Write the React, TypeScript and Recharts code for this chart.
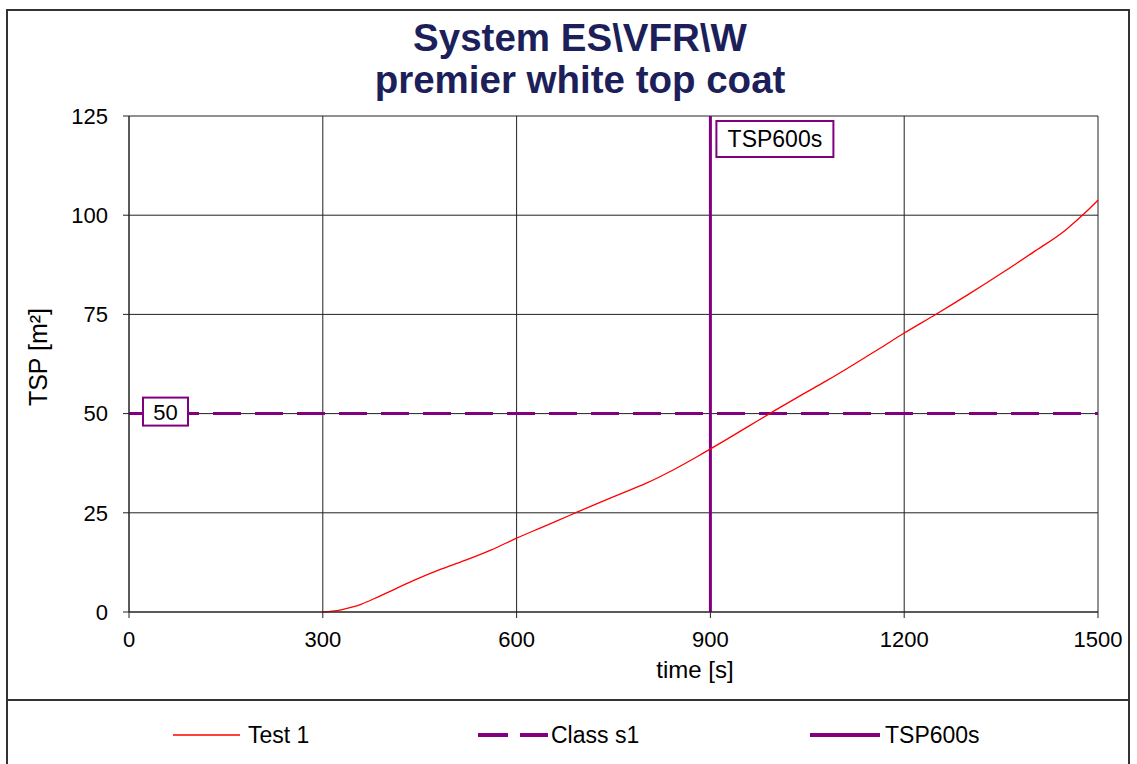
import React from "react";
import { LineChart, Line, XAxis, YAxis, CartesianGrid, ReferenceLine } from "recharts";

const times = [300, 315, 330, 345, 360, 380, 400, 440, 480, 520, 560, 600, 640, 680, 720, 760, 800, 840, 880, 920, 960, 1000, 1040, 1080, 1120, 1160, 1200, 1250, 1300, 1350, 1400, 1450, 1480, 1500];
const test1 = [0, 0.2, 0.6, 1.2, 2.0, 3.4, 4.9, 7.9, 10.6, 13.0, 15.6, 18.6, 21.4, 24.2, 27.0, 29.7, 32.4, 35.6, 39.2, 43.0, 46.9, 50.8, 54.6, 58.3, 62.2, 66.2, 70.3, 75.1, 80.1, 85.3, 90.7, 96.3, 100.6, 103.8];
const xTicks = [0, 300, 600, 900, 1200, 1500];
const yTicks = [0, 25, 50, 75, 100, 125];
const classS1 = 50;
const tsp600Time = 900;
const legendNames = ["Test 1", "Class s1", "TSP600s"];

const data = times.map((t, i) => ({ t, v: test1[i] }));

const PURPLE = "#800080";
const FONT = "'Liberation Sans', Arial, sans-serif";

const ClassLabel = (props: any) => {
  const { viewBox } = props;
  const x = viewBox.x + 14;
  const y = viewBox.y - 16;
  return (
    <g>
      <rect x={x} y={y} width={45} height={28} fill="#fff" stroke={PURPLE} strokeWidth={2} />
      <text x={x + 22.5} y={y + 22} textAnchor="middle" fontSize={22} fontFamily={FONT} fill="#000">50</text>
    </g>
  );
};

const TspLabel = (props: any) => {
  const { viewBox } = props;
  const x = viewBox.x + 6;
  const y = viewBox.y + 5;
  return (
    <g>
      <rect x={x} y={y} width={117} height={36} fill="#fff" stroke={PURPLE} strokeWidth={2} />
      <text x={x + 58.5} y={y + 26} textAnchor="middle" fontSize={23} fontFamily={FONT} fill="#000">TSP600s</text>
    </g>
  );
};

export default function App() {
  return (
    <div style={{ position: "absolute", left: 6, top: 9, width: 1120, height: 760, border: "2px solid #333", fontFamily: FONT, background: "#fff" }}>
      <div style={{ position: "absolute", left: 0, width: 1144, top: 6, textAlign: "center", color: "#1c1f5a", fontWeight: "bold", fontSize: 38.5, lineHeight: "42px" }}>
        System ES\VFR\W<br />premier white top coat
      </div>
      <LineChart width={1120} height={688} data={data} margin={{ top: 105, right: 30, left: 0, bottom: 37 }}>
        <CartesianGrid stroke="#222" strokeWidth={1} />
        <XAxis dataKey="t" type="number" domain={[0, 1500]} ticks={xTicks} interval={0} tickSize={6} tickMargin={13}
          tick={{ fontSize: 22, fill: "#000", fontFamily: FONT }} stroke="#222" height={50} />
        <YAxis type="number" domain={[0, 125]} ticks={yTicks} interval={0} width={121} tickSize={6} tickMargin={15}
          tick={{ fontSize: 22, fill: "#000", fontFamily: FONT }} stroke="#222" />
        <ReferenceLine y={classS1} stroke={PURPLE} strokeWidth={3} strokeDasharray="28 14" label={<ClassLabel />} />
        <ReferenceLine x={tsp600Time} stroke={PURPLE} strokeWidth={3} label={<TspLabel />} />
        <Line dataKey="v" stroke="#ff0000" strokeWidth={1.3} dot={false} isAnimationActive={false} type="monotone" />
      </LineChart>
      <div style={{ position: "absolute", left: 30, top: 346, transform: "translate(-50%, -50%) rotate(-90deg)", fontSize: 25, whiteSpace: "nowrap" }}>TSP [m²]</div>
      <div style={{ position: "absolute", left: 687, top: 645, transform: "translateX(-50%)", fontSize: 24, whiteSpace: "nowrap" }}>time [s]</div>
      <div style={{ position: "absolute", left: 0, top: 688, width: 1120, borderTop: "2px solid #333" }} />
      <div style={{ position: "absolute", top: 711, left: 0, width: 1120, height: 26, fontSize: 23, lineHeight: "26px" }}>
        <svg style={{ position: "absolute", left: 165, top: 8 }} width={70} height={10}>
          <line x1={0} y1={5} x2={67} y2={5} stroke="#ff0000" strokeWidth={1.5} />
        </svg>
        <div style={{ position: "absolute", left: 240, top: 0 }}>{legendNames[0]}</div>
        <svg style={{ position: "absolute", left: 470, top: 8 }} width={72} height={10}>
          <line x1={0} y1={5} x2={70} y2={5} stroke={PURPLE} strokeWidth={4} strokeDasharray="30 12" />
        </svg>
        <div style={{ position: "absolute", left: 543, top: 0 }}>{legendNames[1]}</div>
        <svg style={{ position: "absolute", left: 802, top: 8 }} width={72} height={10}>
          <line x1={0} y1={5} x2={70} y2={5} stroke={PURPLE} strokeWidth={4} />
        </svg>
        <div style={{ position: "absolute", left: 877, top: 0 }}>{legendNames[2]}</div>
      </div>
    </div>
  );
}
